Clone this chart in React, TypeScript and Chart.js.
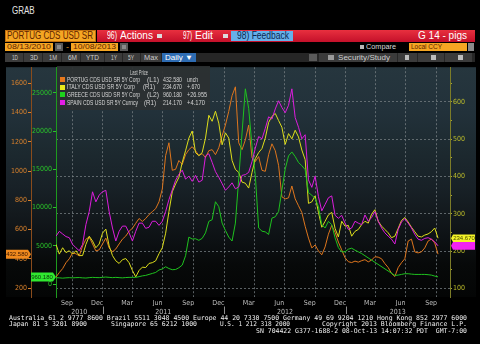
import React, { useEffect, useRef } from 'react';
import { Chart, registerables } from 'chart.js';

Chart.register(...registerables);

// ---------------- data ----------------
// One sample every STEP_DAYS calendar days, starting 08/13/2010 (day 0)
const STEP_DAYS = 10;

const PORTUGAL = [
  276, 307, 334, 374, 401, 441, 435, 421, 488, 535,
  549, 502, 455, 462, 502, 542, 475, 448, 468, 502,
  535, 556, 589, 609, 643, 676, 656, 676, 703, 723,
  743, 790, 878, 1106, 1193, 1005, 1012, 1072, 1045, 1112,
  1146, 1166, 1139, 1106, 1119, 1092, 1139, 1146, 1112, 1159,
  1240, 1314, 1407, 1515, 1575, 1193, 1146, 1213, 1314, 1092,
  1065, 1099, 1005, 998, 1112, 1186, 1139, 1039, 824, 810,
  817, 898, 810, 763, 717, 623, 542, 475, 495, 455,
  428, 482, 569, 629, 582, 515, 462, 408, 381, 375,
  385, 378, 388, 395, 380, 392, 415, 412, 401, 368,
  341, 301, 280, 341, 374, 401, 522, 535, 448, 441,
  448, 475, 522, 535, 509, 432.58,
];

const ITALY = [
  218, 192, 209, 196, 201, 192, 201, 188, 188, 218,
  240, 227, 209, 219, 248, 259, 214, 188, 174, 167,
  177, 180, 169, 148, 131, 148, 157, 156, 167, 169,
  174, 193, 209, 248, 306, 359, 380, 398, 438, 469,
  503, 522, 464, 456, 464, 503, 564, 548, 575, 543,
  485, 517, 503, 443, 419, 411, 385, 382, 369, 411,
  448, 464, 475, 503, 545, 561, 569, 550, 532, 486,
  515, 501, 524, 506, 471, 445, 328, 332, 348, 304,
  264, 280, 297, 304, 261, 238, 280, 267, 269, 240,
  253, 258, 271, 280, 275, 299, 311, 280, 267, 258,
  249, 236, 240, 261, 282, 290, 278, 264, 252, 240,
  238, 243, 246, 252, 262, 234.67,
];

const GREECE = [
  859, 833, 795, 833, 859, 833, 859, 872, 833, 808,
  859, 897, 872, 859, 897, 936, 897, 859, 897, 859,
  833, 872, 897, 897, 897, 987, 1090, 1154, 1282, 1410,
  1538, 1859, 1987, 2282, 2051, 1897, 1923, 2154, 2500, 3718,
  6154, 5897, 5936, 5731, 5987, 6705, 8205, 8423, 10769, 10128,
  7987, 7013, 6154, 5641, 7987, 13756, 19743, 25512, 22948, 18076,
  14192, 7346, 6923, 6833, 6500, 8628, 8807, 9487, 12269, 15038,
  16756, 17269, 16666, 15897, 15474, 14961, 11961, 11628, 11192, 10128,
  7782, 7346, 8205, 7782, 6064, 4782, 4231, 4231, 4577, 4705,
  4449, 4231, 4013, 3718, null, null, null, null, null, null,
  null, null, 1154, 1192, 1282, 1372, 1372, 1320, 1282, 1282,
  1282, 1282, 1244, 1192, 1064, 960.18,
];

const SPAIN = [
  240, 253, 246, 239, 236, 218, 209, 201, 218, 271,
  306, 359, 332, 350, 359, 363, 306, 262, 227, 253,
  267, 267, 249, 227, 253, 275, 275, 261, 264, 280,
  280, 269, 280, 306, 338, 364, 390, 406, 417, 393,
  401, 387, 403, 385, 390, 455, 461, 438, 413, 398,
  381, 363, 372, 383, 367, 372, 403, 405, 411, 440,
  476, 507, 501, 529, 560, 554, 581, 603, 585, 571,
  591, 635, 558, 532, 501, 512, 391, 371, 401, 346,
  308, 325, 343, 348, 296, 288, 296, 275, 258, 262,
  280, 275, 271, 297, 280, 290, 306, 280, 262, 249,
  240, 232, 219, 258, 278, 287, 275, 262, 245, 232,
  229, 234, 236, 232, 225, 214.17,
];

const SAMPLE_DAYS = PORTUGAL.map((_, i) => i * STEP_DAYS);

const SERIES_NAMES = [
  'PORTUG CDS USD SR 5Y Corp',
  'ITALY CDS USD SR 5Y Corp',
  'GREECE CDS USD SR 5Y Corp',
  'SPAIN CDS USD SR 5Y Curncy',
];
const SERIES_AXES = ['(L1)', '(R1)', '(L2)', '(R1)'];
const LAST_PRICES = ['432.580', '234.670', '960.180', '214.170'];
const NET_CHANGES = ['unch', '+.670', '+26.955', '+4.170'];

// x axis (days since 08/13/2010)
const QUARTER_DAYS = [49, 141, 231, 322, 414, 506, 597, 688, 780, 872, 962, 1053, 1145];
const MONTH_TICK_DAYS = [33, 124, 214, 306, 398, 489, 580, 672, 764, 855, 945, 1037, 1129];
const MONTH_LABELS = ['Sep', 'Dec', 'Mar', 'Jun', 'Sep', 'Dec', 'Mar', 'Jun', 'Sep', 'Dec', 'Mar', 'Jun', 'Sep'];
const YEAR_MID_DAYS = [70, 323, 689, 1029];
const YEAR_LABELS = ['2010', '2011', '2012', '2013'];
const YEAR_START_DAYS = [141, 506, 872];

// y axes
const L1_TICKS = [200, 400, 600, 800, 1000, 1200, 1400, 1600];
const L2_TICKS = [0, 5000, 10000, 15000, 20000, 25000];
const R1_TICKS = [100, 150, 200, 250, 300, 350, 400, 450, 500, 550, 600, 650];

// ---------------- styles ----------------
const C_ORANGE = '#de761e';
const C_YELLOW = '#dede1c';
const C_GREEN = '#1fc21f';
const C_MAGENTA = '#dc1edc';
const GRID = 'rgba(120,128,132,0.75)';
const TICK_FONT = { family: '"Liberation Sans Narrow", "DejaVu Sans Condensed", "Liberation Sans", sans-serif', size: 7 };

const last = (a: (number | null)[]) => a[a.length - 1] as number;

const TAGS = [
  { axis: 'yL1', value: last(PORTUGAL), bg: '#f08a1e', fg: '#3a1600', side: 'left', text: last(PORTUGAL).toFixed(3) },
  { axis: 'yL2', value: last(GREECE), bg: '#30e830', fg: '#083808', side: 'left', text: last(GREECE).toFixed(3) },
  { axis: 'yR1', value: last(ITALY), bg: '#f4f428', fg: '#4a4a00', side: 'right', text: last(ITALY).toFixed(3) },
  { axis: 'yR1', value: last(SPAIN), bg: '#f222f2', fg: '#f222f2', side: 'right', text: '' },
];

const backgroundPlugin = {
  id: 'bbgBackground',
  beforeDraw(chart: any) {
    const { ctx, chartArea: a } = chart;
    const g = ctx.createLinearGradient(0, a.top, 0, a.bottom);
    g.addColorStop(0, '#26363e');
    g.addColorStop(0.2, '#22313a');
    g.addColorStop(0.35, '#1d2a30');
    g.addColorStop(0.52, '#182127');
    g.addColorStop(0.64, '#13191d');
    g.addColorStop(0.75, '#0d1114');
    g.addColorStop(0.86, '#070909');
    g.addColorStop(1, '#040505');
    ctx.save();
    ctx.fillStyle = g;
    ctx.fillRect(6, a.top, 470, a.bottom - a.top);
    ctx.restore();
  },
};

const decorPlugin = {
  id: 'bbgDecor',
  afterDraw(chart: any) {
    const { ctx, chartArea } = chart;
    ctx.save();
    // year separators
    const xs = chart.scales.xy;
    ctx.strokeStyle = '#8c8c8c';
    ctx.lineWidth = 1;
    YEAR_START_DAYS.forEach((d) => {
      const x = Math.round(xs.getPixelForValue(d)) + 0.5;
      ctx.beginPath();
      ctx.moveTo(x, xs.top + 0.5);
      ctx.lineTo(x, xs.top + 8);
      ctx.stroke();
    });
    // last value tags
    ctx.font = '6px "Liberation Sans"';
    ctx.textBaseline = 'middle';
    ctx.textAlign = 'center';
    TAGS.forEach((t) => {
      const s = chart.scales[t.axis];
      const y = s.getPixelForValue(t.value);
      const h = t.side === 'left' ? 4.5 : 3.8;
      ctx.fillStyle = t.bg;
      ctx.beginPath();
      let cx;
      if (t.side === 'left') {
        const x0 = s.left, x1 = s.right;
        ctx.moveTo(x0, y - h);
        ctx.lineTo(x1 - 3, y - h);
        ctx.lineTo(x1, y);
        ctx.lineTo(x1 - 3, y + h);
        ctx.lineTo(x0, y + h);
        cx = (x0 + x1 - 3) / 2;
      } else {
        const x0 = chartArea.right + 1, x1 = chartArea.right + 25;
        ctx.moveTo(x0, y);
        ctx.lineTo(x0 + 2, y - h);
        ctx.lineTo(x1, y - h);
        ctx.lineTo(x1, y + h);
        ctx.lineTo(x0 + 2, y + h);
        cx = (x0 + 2 + x1) / 2;
      }
      ctx.closePath();
      ctx.fill();
      if (t.text) {
        ctx.fillStyle = t.fg;
        ctx.fillText(t.text, cx, y + 0.5);
      }
    });
    ctx.restore();
  },
};

function PigsChart() {
  const ref = useRef<HTMLCanvasElement>(null);
  useEffect(() => {
    const mk = (arr: (number | null)[]) => SAMPLE_DAYS.map((d, i) => ({ x: d, y: arr[i] }));
    const common = { borderWidth: 1, pointRadius: 0, tension: 0, spanGaps: true, fill: false };
    const chart = new Chart(ref.current!, {
      type: 'line',
      data: {
        datasets: [
          { ...common, label: SERIES_NAMES[0], data: mk(PORTUGAL), borderColor: C_ORANGE, yAxisID: 'yL1', xAxisID: 'x', order: 3 },
          { ...common, label: SERIES_NAMES[1], data: mk(ITALY), borderColor: C_YELLOW, yAxisID: 'yR1', xAxisID: 'x', order: 2 },
          { ...common, label: SERIES_NAMES[2], data: mk(GREECE), borderColor: C_GREEN, yAxisID: 'yL2', xAxisID: 'x', order: 1 },
          { ...common, label: SERIES_NAMES[3], data: mk(SPAIN), borderColor: C_MAGENTA, yAxisID: 'yR1', xAxisID: 'x', order: 0 },
        ] as any,
      },
      options: {
        animation: false,
        responsive: false,
        devicePixelRatio: 1,
        events: [],
        layout: { padding: { left: 6, top: 1, right: 0, bottom: 0 } },
        plugins: { legend: { display: false }, tooltip: { enabled: false } },
        scales: {
          x: {
            type: 'linear', position: 'bottom', min: 0, max: 1186, weight: 0,
            afterBuildTicks: (s: any) => { s.ticks = QUARTER_DAYS.map((v) => ({ value: v })); },
            ticks: { display: false },
            grid: { color: GRID, drawTicks: false, lineWidth: 1 },
            border: { display: false, dash: [2, 2] },
            afterFit: (s: any) => { s.height = 0; },
          },
          xm: {
            type: 'linear', position: 'bottom', min: 0, max: 1186, weight: 1,
            afterBuildTicks: (s: any) => { s.ticks = MONTH_TICK_DAYS.map((v) => ({ value: v })); },
            ticks: { callback: (_v: any, i: number) => MONTH_LABELS[i], color: '#bdbdbd', font: TICK_FONT, autoSkip: false, maxRotation: 0, padding: 2 },
            grid: { display: false, drawTicks: false },
            border: { display: false },
            afterFit: (s: any) => { s.height = 9; },
          },
          xy: {
            type: 'linear', position: 'bottom', min: 0, max: 1186, weight: 2,
            afterBuildTicks: (s: any) => { s.ticks = YEAR_MID_DAYS.map((v) => ({ value: v })); },
            ticks: { callback: (_v: any, i: number) => YEAR_LABELS[i], color: '#bdbdbd', font: TICK_FONT, autoSkip: false, maxRotation: 0, padding: 1.5 },
            grid: { display: false, drawTicks: false },
            border: { display: false },
            afterFit: (s: any) => { s.height = 10; },
          },
          yL1: {
            type: 'linear', position: 'left', min: 140, max: 1709, weight: 1,
            afterBuildTicks: (s: any) => { s.ticks = L1_TICKS.map((v) => ({ value: v })); },
            ticks: { color: '#d9812c', font: TICK_FONT, padding: 1, callback: (v: any) => String(v) },
            grid: { drawOnChartArea: false, drawTicks: true, tickLength: 3, tickColor: '#d9812c' },
            border: { display: true, color: '#8a4c1c' },
            afterFit: (s: any) => { s.width = 25; },
          },
          yL2: {
            type: 'linear', position: 'left', min: -1667, max: 28333, weight: 0,
            afterBuildTicks: (s: any) => { s.ticks = L2_TICKS.map((v) => ({ value: v })); },
            ticks: { color: '#2ac42a', font: TICK_FONT, padding: 1, callback: (v: any) => String(v) },
            grid: { drawOnChartArea: false, drawTicks: true, tickLength: 3, tickColor: '#2ac42a' },
            border: { display: true, color: '#1e9a1e' },
            afterFit: (s: any) => { s.width = 25; },
          },
          yR1: {
            type: 'linear', position: 'right', min: 77, max: 693, weight: 0,
            afterBuildTicks: (s: any) => { s.ticks = R1_TICKS.map((v) => ({ value: v })); },
            ticks: { color: '#bcbc2a', font: TICK_FONT, padding: 1, callback: (v: any) => (v % 100 === 0 ? String(v) : '') },
            grid: {
              drawOnChartArea: true, drawTicks: true, tickLength: 2, tickColor: '#a8a82a',
              color: (ctx: any) => (ctx.tick && ctx.tick.value % 100 === 0 ? GRID : 'rgba(0,0,0,0)'),
            },
            border: { display: true, color: '#7c7c28', dash: [2, 2] },
            afterFit: (s: any) => { s.width = 30; },
          },
        },
      } as any,
      plugins: [backgroundPlugin, decorPlugin],
    });
    return () => chart.destroy();
  }, []);
  return (
    <canvas ref={ref} width={480} height={254}
      style={{ position: 'absolute', left: 0, top: 62, width: 480, height: 254 }} />
  );
}

// ---------------- text helpers ----------------
let mctx: CanvasRenderingContext2D | null = null;
function measure(text: string, font: string) {
  if (!mctx) mctx = document.createElement('canvas').getContext('2d');
  mctx!.font = font;
  return mctx!.measureText(text).width;
}

function Txt({ x, y, w, text, size = 8, color = '#d8d8d8', family = 'Liberation Sans', weight = 400 }: any) {
  const font = `${weight} ${size}px "${family}"`;
  const m = measure(text, font) || 1;
  const sx = w ? w / m : 1;
  return (
    <div style={{
      position: 'absolute', left: x, top: y - size / 2, height: size, fontFamily: `"${family}"`,
      fontSize: size, fontWeight: weight, lineHeight: `${size}px`, color, whiteSpace: 'pre',
      transform: `scaleX(${sx})`, transformOrigin: '0 0',
    }}>{text}</div>
  );
}

function Box({ x, y, w, h, bg, style }: any) {
  return <div style={{ position: 'absolute', left: x, top: y, width: w, height: h, background: bg, ...style }} />;
}

const AMBER = '#f5a623';
const AMBER_TEXT = '#5e1e00';

function Header() {
  return (
    <>
      <Txt x={11.7} y={11.2} w={22.7} size={10} text="GRAB" color="#e4e4e4" />
      {/* red bar */}
      <Box x={97} y={30} w={378} h={12} bg="linear-gradient(#e8303f, #c4102a)" />
      <Box x={5} y={30} w={91} h={12} bg={AMBER} style={{ boxShadow: 'inset 0 0 0 1px #c07010' }} />
      <Txt x={7} y={36} w={86} size={10} text="PORTUG CDS USD SR" color={AMBER_TEXT} />
      <Txt x={107} y={36} w={10} size={10} text="96)" color="#ffffff" />
      <Txt x={120} y={36} w={33} size={10} text="Actions" color="#ffffff" />
      <Box x={157} y={34} w={5} h={4} bg="#dcdcdc" />
      <Txt x={183} y={36} w={9} size={10} text="97)" color="#ffffff" />
      <Txt x={195} y={36} w={18} size={10} text="Edit" color="#ffffff" />
      <Box x={223} y={34} w={5} h={4} bg="#dcdcdc" />
      <Box x={231} y={31} w={62} h={10} bg="#66b0ea" />
      <Txt x={237} y={36} w={52} size={10} text="98) Feedback" color="#0c2850" />
      <Txt x={418} y={36} w={49} size={10} text="G 14 - pigs" color="#ffffff" />

      {/* date row */}
      <Box x={5} y={43} w={48} h={8} bg={AMBER} />
      <Txt x={7} y={47} w={44} size={8} text="08/13/2010" color={AMBER_TEXT} />
      <Box x={55} y={43} w={8} h={8} bg="#8a8a8a" style={{ boxShadow: 'inset 0 0 0 2px #5a5a5a' }} />
      <Txt x={66} y={47} w={3} size={8} text="-" color={AMBER} />
      <Box x={71} y={43} w={47} h={8} bg={AMBER} />
      <Txt x={73} y={47} w={43} size={8} text="10/08/2013" color={AMBER_TEXT} />
      <Box x={120} y={43} w={8} h={8} bg="#8a8a8a" style={{ boxShadow: 'inset 0 0 0 2px #5a5a5a' }} />
      <Box x={360} y={45} w={4} h={4} bg="#b8b8b8" />
      <Txt x={366} y={47} w={30} size={8} text="Compare" color="#d8d8d8" />
      <Box x={409} y={43} w={58} h={8} bg={AMBER} />
      <Txt x={411} y={47} w={31} size={8} text="Local CCY" color={AMBER_TEXT} />
      <Box x={468} y={43} w={6} h={8} bg="#8a8a8a" />

      {/* toolbar */}
      <Box x={5} y={53} w={470} h={9} bg="#262626" />
      {[[5, 23], [24, 42], [43, 61], [62, 80], [81, 104], [105, 122], [123, 140], [141, 161], [319, 397], [398, 417], [418, 444], [445, 472]].map(([a, b], i) => (
        <Box key={i} x={a} y={53} w={b - a} h={9} bg="#3b3b3b" />
      ))}
      {[['1D', 12, 6], ['3D', 30, 8], ['1M', 49, 8], ['6M', 68, 9], ['YTD', 86, 13], ['1Y', 111, 6], ['5Y', 128, 6], ['Max', 144, 14]].map(([t, x, w]: any) => (
        <Txt key={t} x={x} y={57.5} w={w} size={7.5} text={t} color="#cccccc" />
      ))}
      <Box x={162} y={53} w={34} h={9} bg="#2e6cb2" />
      <Txt x={165} y={57.5} w={28} size={7.5} text="Daily ▼" color="#ffffff" />
      <Box x={309} y={54} w={8} h={7} bg="#5a5a5a" />
      <Box x={328} y={55} w={6} h={5} bg="#9a9a9a" />
      <Txt x={338} y={57.5} w={52} size={7.5} text="Security/Study" color="#cccccc" />
      <Box x={405} y={55} w={4} h={5} bg="#bdbdbd" />
      <Box x={431} y={55} w={5} h={5} bg="#bdbdbd" />
      <Box x={458} y={55} w={5} h={5} bg="#bdbdbd" />
    </>
  );
}

const LEGEND_SWATCH = ['#e8781c', '#e8e81c', '#1ed41e', '#e41ee4'];
const NAME_W = [73, 68, 73, 71];
const AXIS_X = [147, 143, 147, 144];
const CHG_W = [11, 13, 20, 18];

function Legend() {
  return (
    <>
      <Box x={57} y={66} w={153} h={44} bg="rgba(44,48,50,0.93)" />
      <Txt x={130} y={72.3} w={18} size={7} text="Last Price" color="#cfcfcf" />
      {SERIES_NAMES.map((n, i) => {
        const y = 79.3 + i * 7.8;
        return (
          <React.Fragment key={n}>
            <Box x={60} y={y - 2.5} w={5} h={5} bg={LEGEND_SWATCH[i]} />
            <Txt x={67} y={y} w={NAME_W[i]} size={7.5} text={n} color="#d4d4d4" />
            <Txt x={AXIS_X[i]} y={y} w={12} size={7.5} text={SERIES_AXES[i]} color="#d4d4d4" />
            <Txt x={163} y={y} w={19} size={7.5} text={LAST_PRICES[i]} color="#d4d4d4" />
            <Txt x={187} y={y} w={CHG_W[i]} size={7.5} text={NET_CHANGES[i]} color="#d4d4d4" />
          </React.Fragment>
        );
      })}
    </>
  );
}

function Footer() {
  const f = 'DejaVu Sans Mono';
  const c = '#efefef';
  return (
    <>
      <Txt x={9.3} y={318.3} w={458} size={6.5} family={f} color={c}
        text="Australia 61 2 9777 8600 Brazil 5511 3048 4500 Europe 44 20 7330 7500 Germany 49 69 9204 1210 Hong Kong 852 2977 6000" />
      <Txt x={9.3} y={324.5} w={78} size={6.5} family={f} color={c} text="Japan 81 3 3201 8900" />
      <Txt x={110.7} y={324.5} w={86} size={6.5} family={f} color={c} text="Singapore 65 6212 1000" />
      <Txt x={220} y={324.5} w={70} size={6.5} family={f} color={c} text="U.S. 1 212 318 2000" />
      <Txt x={321.7} y={324.5} w={145} size={6.5} family={f} color={c} text="Copyright 2013 Bloomberg Finance L.P." />
      <Txt x={256} y={331.7} w={211} size={6.5} family={f} color={c} text="SN 704422 G377-1688-2 08-Oct-13 14:07:32 PDT  GMT-7:00" />
    </>
  );
}

export default function App() {
  return (
    <div style={{ position: 'fixed', left: 0, top: 0, width: 480, height: 344, background: '#000', overflow: 'hidden' }}>
      <Header />
      <PigsChart />
      <Legend />
      <Footer />
    </div>
  );
}
